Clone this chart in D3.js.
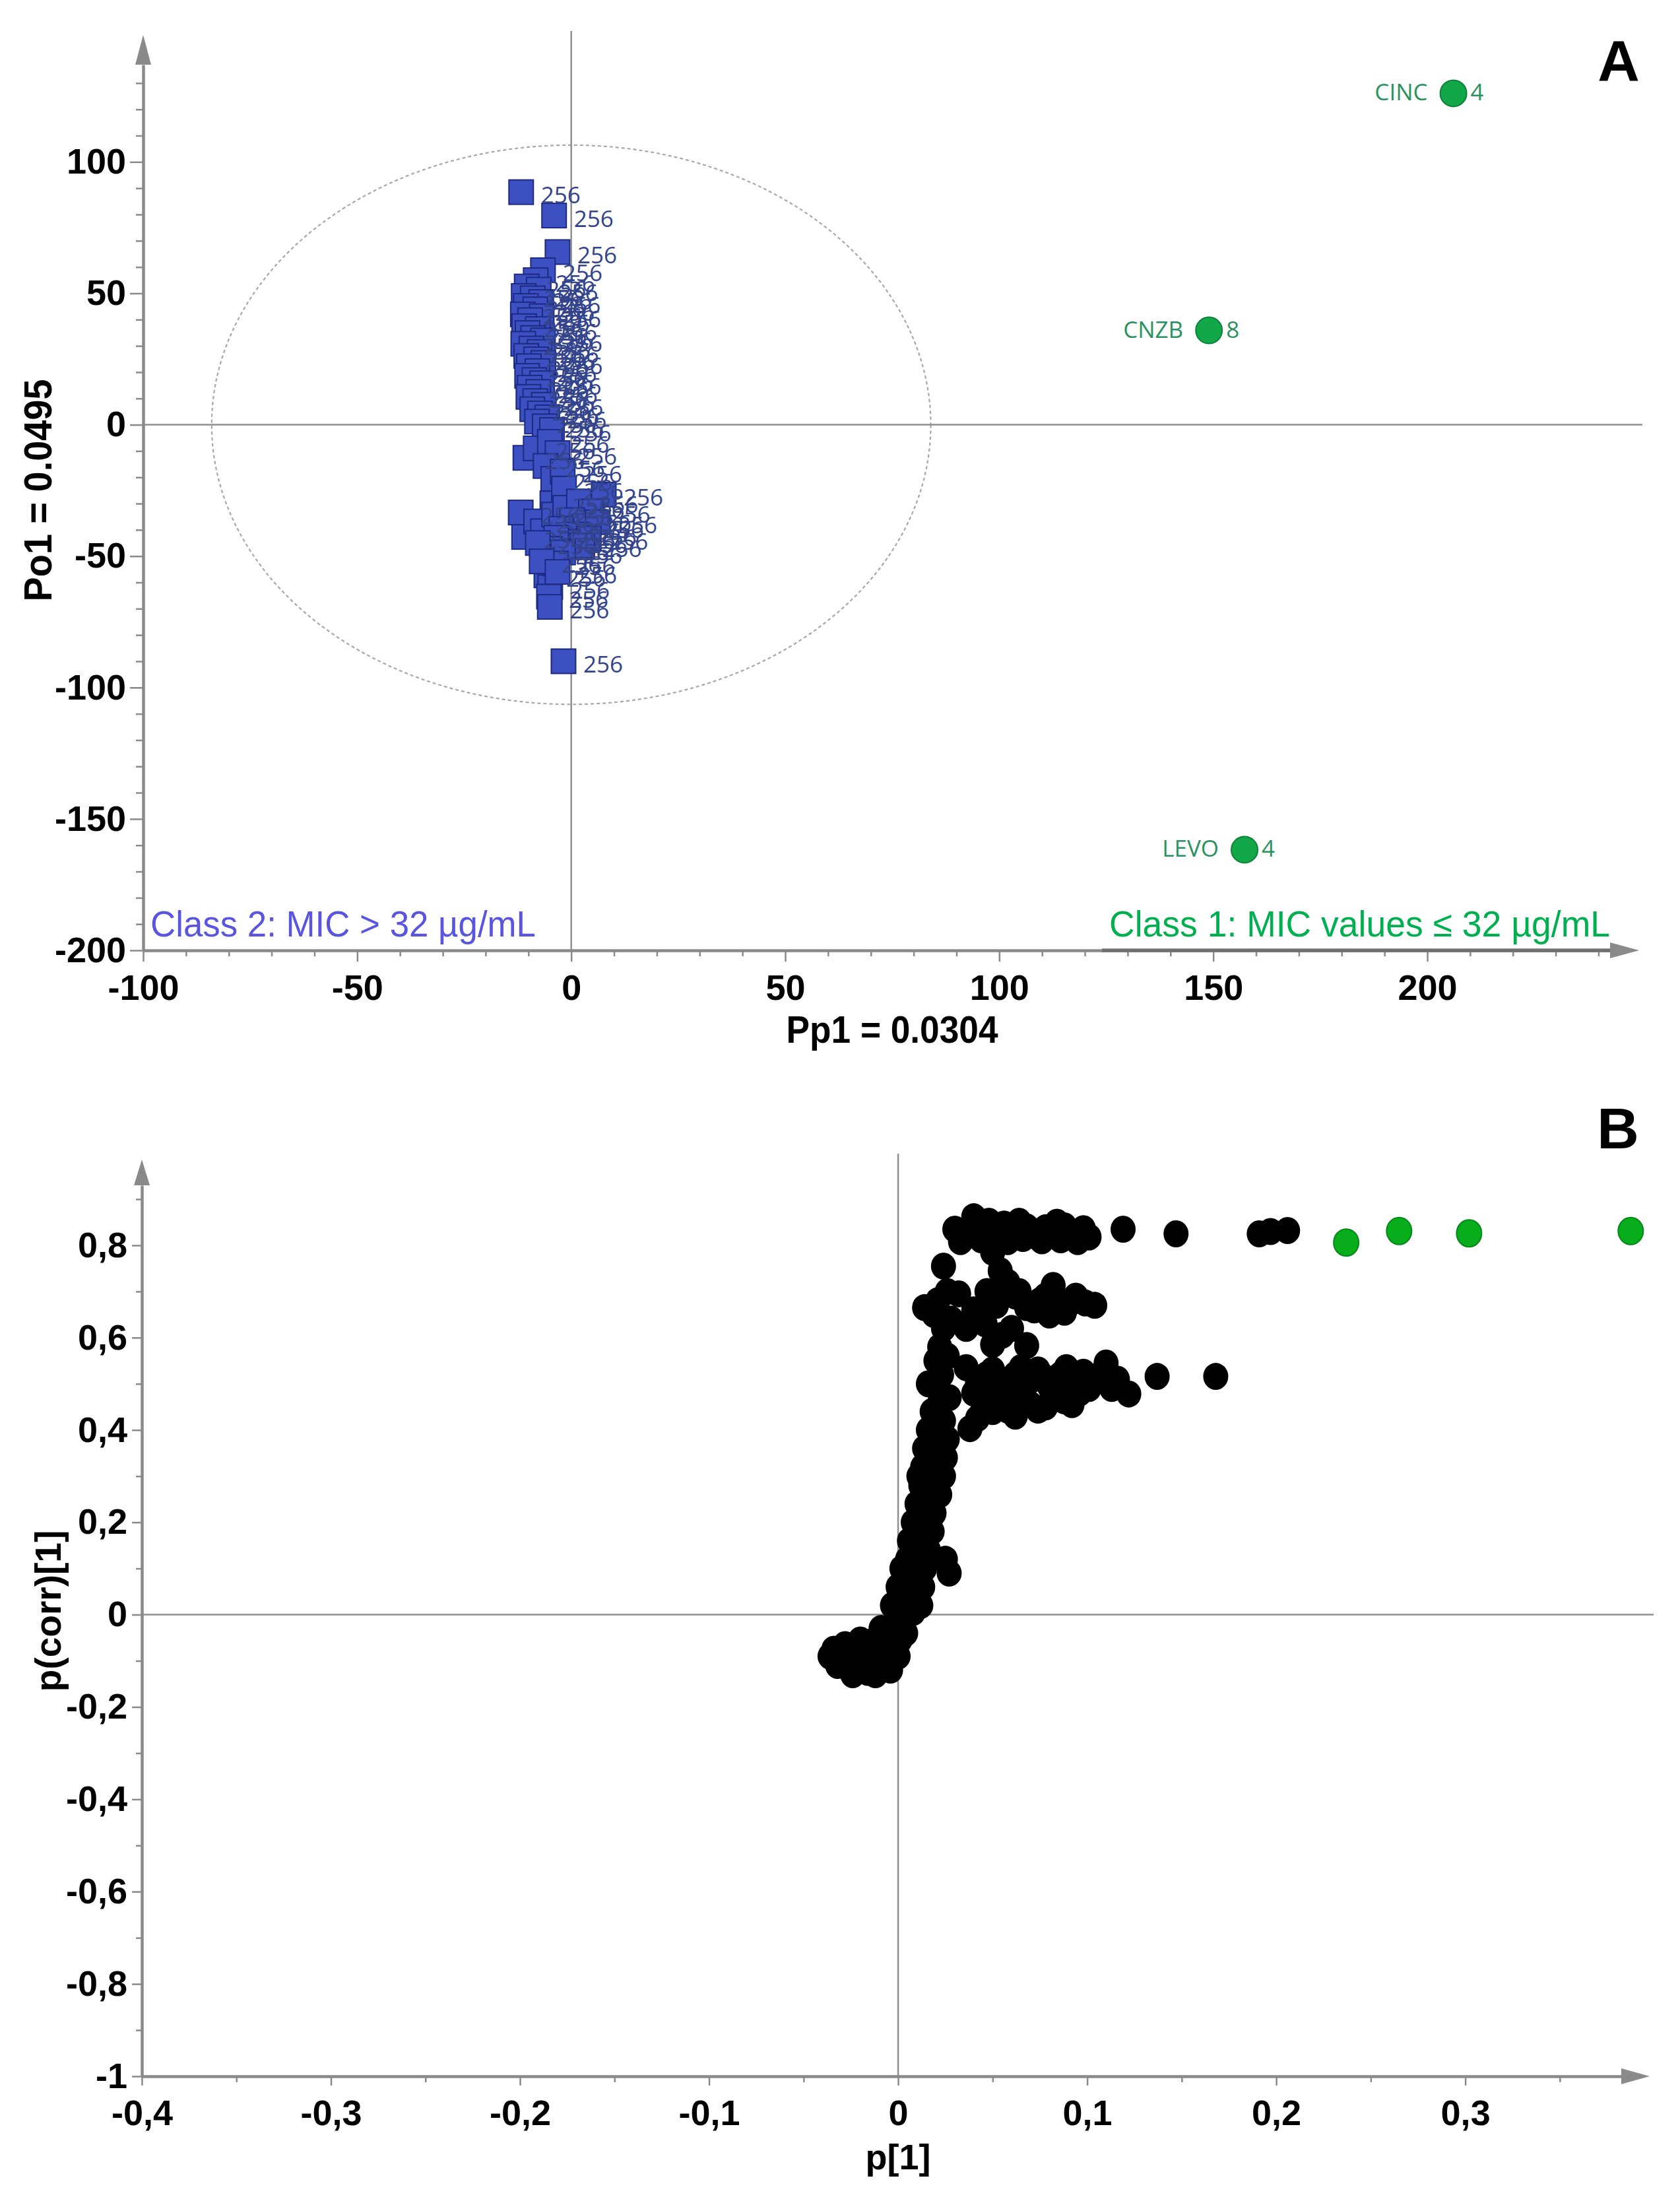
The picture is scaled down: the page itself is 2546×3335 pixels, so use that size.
<!DOCTYPE html>
<html>
<head>
<meta charset="utf-8">
<script src="https://cdn.jsdelivr.net/npm/d3@7"></script>
<style>
  html, body { margin: 0; padding: 0; background: #fff; }
  svg { display: block; }
</style>
</head>
<body>
<svg id="chart" width="2546" height="3335"></svg>
<script>
// ---------------- DATA ----------------
// Panel A: OPLS-DA scores (Pp1, Po1). Class 2 compounds (MIC 256 µg/mL)
const classTwoScores = [
  [-11.7, 88.5], [-4.0, 79.6], [-3.2, 65.7], [-6.6, 58.8],
  [-8.3, 55.0], [-10.4, 52.6], [-7.6, 51.4], [-11.1, 49.0], [-9.0, 48.1], [-7.0, 46.7],
  [-10.6, 45.2], [-8.4, 43.9], [-11.3, 42.0], [-6.9, 41.3], [-9.6, 39.8],
  [-11.0, 37.5], [-7.8, 36.4], [-10.2, 34.9], [-8.9, 33.0], [-6.6, 32.1],
  [-11.2, 30.8], [-9.3, 29.0], [-7.4, 27.7], [-10.5, 26.2], [-8.2, 24.9],
  [-6.5, 23.5], [-9.9, 22.3], [-7.9, 20.4], [-10.3, 18.6], [-8.6, 17.0],
  [-6.8, 15.8], [-9.7, 14.1], [-7.7, 12.5], [-10.0, 10.6], [-8.4, 9.0],
  [-6.4, 7.6], [-9.1, 5.9], [-7.3, 4.3], [-5.6, 2.8], [-8.0, 1.2],
  [-6.2, -0.6], [-4.5, -2.0],
  [-10.7, -12.6], [-8.3, -9.0], [-5.0, -6.5], [-3.2, -10.8],
  [-6.0, -15.7], [-4.2, -20.6], [-2.0, -17.8], [-4.4, -29.9], [-1.7, -24.3],
  [-11.8, -33.4], [-11.0, -42.7], [-8.2, -36.8], [-6.6, -40.5], [-4.0, -34.2], [-1.4, -31.6],
  [7.6, -26.6], [1.8, -29.2], [4.6, -33.0], [0.2, -36.3], [3.1, -38.7], [6.2, -37.1], [-2.3, -39.6],
  [1.4, -41.8], [4.1, -43.3], [-0.8, -44.5], [2.6, -46.0], [-3.5, -43.0], [-5.0, -47.2], [-7.8, -45.0],
  [-1.9, -48.6], [-5.8, -57.3], [-4.9, -61.8], [-5.2, -65.4], [-5.0, -69.3], [-3.6, -52.8],
  [-6.9, -52.0], [-3.2, -56.0],
  [-1.8, -90.0]
];
const classTwoMIC = "256";

// Class 1 compounds (MIC <= 32 µg/mL)
const classOneNames = ["CINC", "CNZB", "LEVO"];
const classOnePp1   = [206.1, 149.0, 157.3];
const classOnePo1   = [126.1, 35.9, -161.7];
const classOneMIC   = ["4", "8", "4"];

// Hotelling T2 ellipse semi-axes (Pp1 units, Po1 units)
const hotellingAxes = [84, 106.4];

const scoreXTicks = [-100, -50, 0, 50, 100, 150, 200];
const scoreXTickLabels = ["-100", "-50", "0", "50", "100", "150", "200"];
const scoreYTicks = [100, 50, 0, -50, -100, -150, -200];
const scoreYTickLabels = ["100", "50", "0", "-50", "-100", "-150", "-200"];

// Panel B: S-plot (p[1], p(corr)[1])
const loadingBlack = [
  // top row ~0.83
  [0.030, 0.835], [0.036, 0.820], [0.040, 0.862], [0.046, 0.838], [0.052, 0.818],
  [0.056, 0.846], [0.062, 0.830], [0.068, 0.840], [0.072, 0.821], [0.078, 0.838],
  [0.083, 0.826], [0.088, 0.842], [0.093, 0.822], [0.098, 0.836], [0.101, 0.818],
  [0.033, 0.808], [0.044, 0.812], [0.058, 0.808], [0.066, 0.815], [0.076, 0.810],
  [0.086, 0.812], [0.095, 0.808], [0.064, 0.852], [0.084, 0.850], [0.048, 0.852],
  [0.119, 0.835], [0.147, 0.825], [0.191, 0.825], [0.197, 0.830], [0.206, 0.832],
  // middle region 0.58-0.78
  [0.024, 0.755], [0.050, 0.785], [0.054, 0.745], [0.058, 0.720],
  [0.047, 0.700], [0.021, 0.680], [0.032, 0.695], [0.028, 0.640], [0.019, 0.650],
  [0.036, 0.620], [0.046, 0.630], [0.055, 0.605], [0.068, 0.583], [0.068, 0.665],
  [0.075, 0.680], [0.082, 0.713], [0.085, 0.665], [0.091, 0.675], [0.099, 0.675],
  [0.080, 0.649], [0.062, 0.690], [0.064, 0.700], [0.072, 0.660], [0.078, 0.690],
  [0.088, 0.655], [0.094, 0.690], [0.104, 0.670], [0.040, 0.660], [0.052, 0.670],
  [0.024, 0.620], [0.050, 0.585], [0.060, 0.620], [0.026, 0.700], [0.014, 0.665],
  // band ~0.5
  [0.036, 0.535], [0.042, 0.505], [0.050, 0.530], [0.056, 0.490], [0.062, 0.520],
  [0.068, 0.500], [0.074, 0.530], [0.080, 0.495], [0.086, 0.520], [0.092, 0.500],
  [0.098, 0.525], [0.104, 0.505], [0.110, 0.545], [0.116, 0.510], [0.122, 0.478],
  [0.040, 0.480], [0.047, 0.520], [0.053, 0.510], [0.060, 0.500], [0.065, 0.535],
  [0.071, 0.510], [0.077, 0.515], [0.083, 0.505], [0.089, 0.535], [0.095, 0.515],
  [0.101, 0.490], [0.107, 0.520], [0.113, 0.490],
  [0.137, 0.516], [0.168, 0.516],
  [0.038, 0.403], [0.045, 0.450], [0.052, 0.470], [0.058, 0.443], [0.066, 0.460],
  [0.074, 0.443], [0.082, 0.470], [0.088, 0.463], [0.096, 0.480],
  [0.042, 0.425], [0.050, 0.440], [0.062, 0.430], [0.070, 0.455], [0.078, 0.450], [0.092, 0.455],
  // stem
  [0.022, 0.580], [0.020, 0.550], [0.023, 0.520], [0.021, 0.490], [0.022, 0.460],
  [0.018, 0.440], [0.024, 0.420], [0.016, 0.400], [0.022, 0.400], [0.020, 0.380],
  [0.014, 0.360], [0.022, 0.360], [0.018, 0.340], [0.013, 0.320], [0.021, 0.320],
  [0.016, 0.300], [0.012, 0.280], [0.020, 0.280], [0.015, 0.260], [0.010, 0.240],
  [0.017, 0.240], [0.013, 0.220], [0.008, 0.200], [0.015, 0.200], [0.011, 0.180],
  [0.006, 0.160], [0.013, 0.160], [0.009, 0.140], [0.025, 0.120], [0.005, 0.120],
  [0.012, 0.120], [0.008, 0.100], [0.027, 0.090], [0.004, 0.080], [0.011, 0.080],
  [0.007, 0.060], [0.003, 0.040], [0.010, 0.040], [0.006, 0.020], [0.001, 0.000],
  [0.008, 0.005],
  [0.026, 0.560], [0.016, 0.500], [0.027, 0.470], [0.026, 0.380], [0.025, 0.340],
  [0.024, 0.300], [0.022, 0.260], [0.019, 0.220], [0.018, 0.180], [0.016, 0.140],
  [0.014, 0.100], [0.002, 0.100], [0.000, 0.060], [0.013, 0.060], [0.012, 0.020],
  [-0.003, 0.020], [0.011, 0.300],
  // lower blob
  [-0.036, -0.090], [-0.034, -0.075], [-0.032, -0.110], [-0.028, -0.065], [-0.026, -0.100],
  [-0.024, -0.130], [-0.020, -0.075], [-0.018, -0.110], [-0.015, -0.060], [-0.013, -0.090],
  [-0.012, -0.130], [-0.008, -0.050], [-0.008, -0.105], [-0.005, -0.075], [-0.004, -0.120],
  [-0.002, -0.035], [0.000, -0.090], [0.001, -0.055], [0.003, -0.015], [-0.010, -0.070],
  [-0.030, -0.085], [-0.022, -0.095], [-0.016, -0.125], [-0.006, -0.095], [-0.020, -0.055],
  [0.004, -0.040], [-0.009, -0.030]
];
const loadingGreen = [[0.237, 0.806], [0.265, 0.831], [0.302, 0.826], [0.3875, 0.831]];

const loadXTicks = [-0.4, -0.3, -0.2, -0.1, 0, 0.1, 0.2, 0.3];
const loadXTickLabels = ["-0,4", "-0,3", "-0,2", "-0,1", "0", "0,1", "0,2", "0,3"];
const loadXMinor = [-0.35, -0.25, -0.15, -0.05, 0.05, 0.15, 0.25, 0.35];
const loadYTicks = [0.8, 0.6, 0.4, 0.2, 0, -0.2, -0.4, -0.6, -0.8, -1];
const loadYTickLabels = ["0,8", "0,6", "0,4", "0,2", "0", "-0,2", "-0,4", "-0,6", "-0,8", "-1"];
const loadYMinor = [0.9, 0.7, 0.5, 0.3, 0.1, -0.1, -0.3, -0.5, -0.7, -0.9];

// ---------------- DRAWING ----------------
const FONT = "'Liberation Sans', Arial, Helvetica, sans-serif";
const SEGOE = "'Open Sans', 'Noto Sans', sans-serif";
const AXC = "#8a8a8a";
const svg = d3.select("#chart");
svg.append("rect").attr("width", 2546).attr("height", 3335).attr("fill", "#fff");

function styleAxis(g) {
  g.select(".domain").attr("stroke", AXC).attr("stroke-width", 4.5);
  g.selectAll(".tick line").attr("stroke", AXC).attr("stroke-width", 2.5);
  g.selectAll(".tick text")
    .attr("font-family", FONT).attr("font-weight", "bold").attr("font-size", 54).attr("fill", "#000");
}
function minorAxis(g) {
  g.select(".domain").remove();
  g.selectAll(".tick line").attr("stroke", AXC).attr("stroke-width", 2.5);
}

// ===== Panel A =====
const gA = svg.append("g");
const xA = d3.scaleLinear().domain([-100, 242.7]).range([217, 2440]);
const yA = d3.scaleLinear().domain([-200, 137]).range([1440, 98]);

gA.append("ellipse")
  .attr("cx", xA(0)).attr("cy", yA(0))
  .attr("rx", xA(hotellingAxes[0]) - xA(0))
  .attr("ry", yA(0) - yA(hotellingAxes[1]))
  .attr("fill", "none").attr("stroke", "#a8a8a8").attr("stroke-width", 2.2)
  .attr("stroke-dasharray", "5,4");

gA.append("line").attr("x1", xA(-100)).attr("x2", 2489).attr("y1", yA(0)).attr("y2", yA(0))
  .attr("stroke", "#8f8f8f").attr("stroke-width", 2.5);
gA.append("line").attr("x1", xA(0)).attr("x2", xA(0)).attr("y1", 47).attr("y2", yA(-200))
  .attr("stroke", "#8f8f8f").attr("stroke-width", 2.5);

const axAx = gA.append("g").attr("transform", `translate(0,${yA(-200)})`)
  .call(d3.axisBottom(xA).tickValues(scoreXTicks).tickFormat((d, i) => scoreXTickLabels[i]).tickSize(17).tickSizeOuter(0));
styleAxis(axAx);
axAx.selectAll(".tick text").attr("y", 75).attr("dy", 0);
gA.append("g").attr("transform", `translate(0,${yA(-200)})`)
  .call(d3.axisBottom(xA).tickValues(d3.range(-90, 241, 10).filter(v => v % 50 !== 0)).tickFormat("").tickSize(9))
  .call(minorAxis);

const axAy = gA.append("g").attr("transform", `translate(${xA(-100)},0)`)
  .call(d3.axisLeft(yA).tickValues(scoreYTicks).tickFormat((d, i) => scoreYTickLabels[i]).tickSize(20).tickPadding(6).tickSizeOuter(0));
styleAxis(axAy);
gA.append("g").attr("transform", `translate(${xA(-100)},0)`)
  .call(d3.axisLeft(yA).tickValues(d3.range(-190, 131, 10).filter(v => v % 50 !== 0)).tickFormat("").tickSize(11))
  .call(minorAxis);

gA.append("line").attr("x1", xA(124)).attr("x2", 2440).attr("y1", yA(-200)).attr("y2", yA(-200))
  .attr("stroke", "#707070").attr("stroke-width", 5.5);

gA.append("polygon").attr("fill", AXC)
  .attr("points", `${2440},${yA(-200) - 12} ${2484},${yA(-200)} ${2440},${yA(-200) + 12}`);
gA.append("polygon").attr("fill", AXC)
  .attr("points", `${xA(-100) - 12},98 ${xA(-100)},53 ${xA(-100) + 12},98`);

const SQ = 37;
gA.append("g").selectAll("rect").data(classTwoScores).join("rect")
  .attr("x", d => xA(d[0]) - SQ / 2).attr("y", d => yA(d[1]) - SQ / 2)
  .attr("width", SQ).attr("height", SQ)
  .attr("fill", "#3c50c2").attr("stroke", "#1c2a82").attr("stroke-width", 2);
gA.append("g").selectAll("text").data(classTwoScores).join("text")
  .attr("x", d => xA(d[0]) + 30).attr("y", d => yA(d[1]) + 17)
  .attr("font-family", SEGOE).attr("font-size", 35).attr("fill", "#33438c")
  .text(classTwoMIC);

const c1 = classOneNames.map((n, i) => ({ name: n, x: classOnePp1[i], y: classOnePo1[i], mic: classOneMIC[i] }));
const gC1 = gA.append("g");
gC1.selectAll("circle").data(c1).join("circle")
  .attr("cx", d => xA(d.x)).attr("cy", d => yA(d.y)).attr("r", 20)
  .attr("fill", "#12a84a").attr("stroke", "#0b8238").attr("stroke-width", 2);
gC1.selectAll("text.nm").data(c1).join("text").attr("class", "nm")
  .attr("x", d => xA(d.x) - 39).attr("y", d => yA(d.y) + 11).attr("text-anchor", "end")
  .attr("font-family", SEGOE).attr("font-size", 35).attr("fill", "#2a9260").text(d => d.name);
gC1.selectAll("text.mic").data(c1).join("text").attr("class", "mic")
  .attr("x", d => xA(d.x) + 26).attr("y", d => yA(d.y) + 11)
  .attr("font-family", SEGOE).attr("font-size", 35).attr("fill", "#2a9260").text(d => d.mic);

gA.append("text").attr("x", 228).attr("y", 1419).attr("font-family", FONT).attr("font-size", 55)
  .attr("fill", "#5a55e0").attr("textLength", 584).attr("lengthAdjust", "spacingAndGlyphs")
  .text("Class 2: MIC > 32 µg/mL");
gA.append("text").attr("x", 1681).attr("y", 1419).attr("font-family", FONT).attr("font-size", 55)
  .attr("fill", "#00b050").attr("textLength", 759).attr("lengthAdjust", "spacingAndGlyphs")
  .text("Class 1: MIC values ≤ 32 µg/mL");

gA.append("text").attr("x", 1352).attr("y", 1580).attr("text-anchor", "middle")
  .attr("font-family", FONT).attr("font-weight", "bold").attr("font-size", 57)
  .attr("textLength", 321).attr("lengthAdjust", "spacingAndGlyphs").text("Pp1 = 0.0304");
gA.append("text").attr("transform", "translate(78,743) rotate(-90)").attr("text-anchor", "middle")
  .attr("font-family", FONT).attr("font-weight", "bold").attr("font-size", 60)
  .attr("textLength", 337).attr("lengthAdjust", "spacingAndGlyphs").text("Po1 = 0.0495");

gA.append("text").attr("x", 2453).attr("y", 122).attr("text-anchor", "middle")
  .attr("font-family", FONT).attr("font-weight", "bold").attr("font-size", 88).text("A");

// ===== Panel B =====
const gB = svg.append("g");
const xB = d3.scaleLinear().domain([-0.4, 0.3825]).range([215, 2457]);
const yB = d3.scaleLinear().domain([-1, 0.93]).range([3146, 1796]);

gB.append("line").attr("x1", xB(-0.4)).attr("x2", 2506).attr("y1", yB(0)).attr("y2", yB(0))
  .attr("stroke", "#8f8f8f").attr("stroke-width", 2.5);
gB.append("line").attr("x1", xB(0)).attr("x2", xB(0)).attr("y1", 1748).attr("y2", yB(-1))
  .attr("stroke", "#8f8f8f").attr("stroke-width", 2.5);

const axBx = gB.append("g").attr("transform", `translate(0,${yB(-1)})`)
  .call(d3.axisBottom(xB).tickValues(loadXTicks).tickFormat((d, i) => loadXTickLabels[i]).tickSize(14).tickSizeOuter(0));
styleAxis(axBx);
axBx.selectAll(".tick text").attr("y", 74).attr("dy", 0);
gB.append("g").attr("transform", `translate(0,${yB(-1)})`)
  .call(d3.axisBottom(xB).tickValues(loadXMinor).tickFormat("").tickSize(9))
  .call(minorAxis);

const axBy = gB.append("g").attr("transform", `translate(${xB(-0.4)},0)`)
  .call(d3.axisLeft(yB).tickValues(loadYTicks).tickFormat((d, i) => loadYTickLabels[i]).tickSize(15).tickPadding(7).tickSizeOuter(0));
styleAxis(axBy);
gB.append("g").attr("transform", `translate(${xB(-0.4)},0)`)
  .call(d3.axisLeft(yB).tickValues(loadYMinor).tickFormat("").tickSize(9))
  .call(minorAxis);

gB.append("polygon").attr("fill", AXC)
  .attr("points", `${2457},${yB(-1) - 12} ${2500},${yB(-1)} ${2457},${yB(-1) + 12}`);
gB.append("polygon").attr("fill", AXC)
  .attr("points", `${xB(-0.4) - 12},1796 ${xB(-0.4)},1757 ${xB(-0.4) + 12},1796`);

gB.append("g").selectAll("ellipse").data(loadingBlack).join("ellipse")
  .attr("cx", d => xB(d[0])).attr("cy", d => yB(d[1])).attr("rx", 19).attr("ry", 20.5)
  .attr("fill", "#000");
gB.append("g").selectAll("ellipse").data(loadingGreen).join("ellipse")
  .attr("cx", d => xB(d[0])).attr("cy", d => yB(d[1])).attr("rx", 19).attr("ry", 20.5)
  .attr("fill", "#08ad1c").attr("stroke", "#06871a").attr("stroke-width", 2);

gB.append("text").attr("x", 1361).attr("y", 3287).attr("text-anchor", "middle")
  .attr("font-family", FONT).attr("font-weight", "bold").attr("font-size", 54).text("p[1]");
gB.append("text").attr("transform", "translate(92,2441) rotate(-90)").attr("text-anchor", "middle")
  .attr("font-family", FONT).attr("font-weight", "bold").attr("font-size", 55).text("p(corr)[1]");

gB.append("text").attr("x", 2452).attr("y", 1740).attr("text-anchor", "middle")
  .attr("font-family", FONT).attr("font-weight", "bold").attr("font-size", 88).text("B");
</script>
</body>
</html>
